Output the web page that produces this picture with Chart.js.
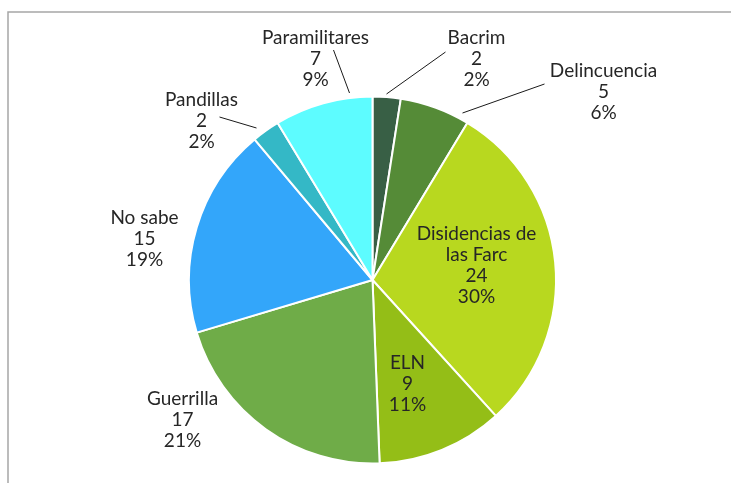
<!DOCTYPE html>
<html>
<head>
<meta charset="utf-8">
<script src="https://cdn.jsdelivr.net/npm/chart.js@4"></script>
<style>
  html, body { margin: 0; padding: 0; background: #fff; }
  #wrap { position: relative; width: 731px; height: 483px; }
</style>
</head>
<body>
<div id="wrap"><canvas id="pieChart" width="731" height="483"></canvas></div>
<script>
// data
const categories = ['Bacrim', 'Delincuencia', 'Disidencias de las Farc', 'ELN', 'Guerrilla', 'No sabe', 'Pandillas', 'Paramilitares'];
const labelLines = [['Bacrim'], ['Delincuencia'], ['Disidencias de', 'las Farc'], ['ELN'], ['Guerrilla'], ['No sabe'], ['Pandillas'], ['Paramilitares']];
const counts = [2, 5, 24, 9, 17, 15, 2, 7];
const sliceColors = ['#385F45', '#558B37', '#B8D81F', '#94BE17', '#6FAC48', '#33A6FA', '#34B8C6', '#5DFCFF'];

// label placement: text block center offset from the pie center, plus optional leader line
const labelLayout = [
  { dx: 104, dy: -221, line: [[73, -228], [14, -186]] },
  { dx: 231, dy: -188, line: [[172, -196], [90, -167]] },
  { dx: 104, dy: -15 },
  { dx: 35, dy: 104 },
  { dx: -190, dy: 140 },
  { dx: -228, dy: -41 },
  { dx: -171, dy: -159, line: [[-153, -163], [-116, -152]] },
  { dx: -57, dy: -221, line: [[-39, -230], [-23, -187]] }
];

const total = counts.reduce((a, b) => a + b, 0);

const framePlugin = {
  id: 'frame',
  beforeDraw(chart) {
    const ctx = chart.ctx;
    ctx.save();
    ctx.strokeStyle = '#a6a6a6';
    ctx.lineWidth = 1.5;
    ctx.beginPath();
    ctx.moveTo(8, 490);
    ctx.lineTo(8, 12);
    ctx.lineTo(740, 12);
    ctx.stroke();
    ctx.restore();
  }
};

const sliceLabels = {
  id: 'sliceLabels',
  afterDatasetsDraw(chart) {
    const ctx = chart.ctx;
    const arcs = chart.getDatasetMeta(0).data;
    const cx = arcs[0].x, cy = arcs[0].y;
    ctx.save();
    ctx.font = '19px Lato, "Open Sans", sans-serif';
    ctx.fillStyle = '#262626';
    ctx.textAlign = 'center';
    ctx.textBaseline = 'middle';
    const lh = 21;
    labelLayout.forEach((lay, i) => {
      const lines = labelLines[i].concat([String(counts[i]), Math.round(counts[i] / total * 100) + '%']);
      const top = cy + lay.dy - (lines.length - 1) * lh / 2;
      lines.forEach((t, k) => ctx.fillText(t, cx + lay.dx, top + k * lh));
      if (lay.line) {
        ctx.strokeStyle = '#1a1a1a';
        ctx.lineWidth = 1;
        ctx.beginPath();
        ctx.moveTo(cx + lay.line[0][0], cy + lay.line[0][1]);
        ctx.lineTo(cx + lay.line[1][0], cy + lay.line[1][1]);
        ctx.stroke();
      }
    });
    ctx.restore();
  }
};

new Chart(document.getElementById('pieChart').getContext('2d'), {
  type: 'pie',
  data: {
    labels: categories,
    datasets: [{
      data: counts,
      backgroundColor: sliceColors,
      borderColor: '#ffffff',
      borderWidth: 2
    }]
  },
  options: {
    responsive: false,
    animation: false,
    layout: { padding: { top: 95, bottom: 18, left: 188, right: 174 } },
    plugins: {
      legend: { display: false },
      tooltip: { enabled: false }
    }
  },
  plugins: [framePlugin, sliceLabels]
});
</script>
</body>
</html>
